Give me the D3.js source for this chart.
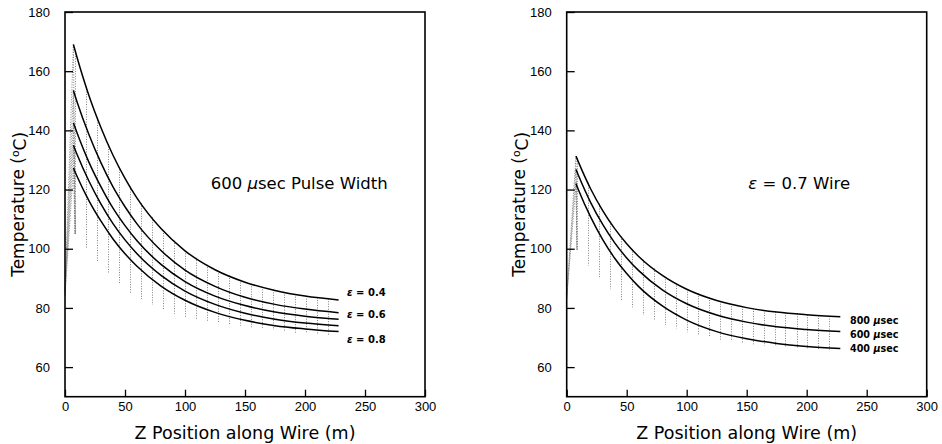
<!DOCTYPE html>
<html>
<head>
<meta charset="utf-8">
<script src="https://cdn.jsdelivr.net/npm/d3@7"></script>
<style>
body { margin: 0; background: #fff; }
svg text { font-family: "Liberation Sans", Arial, sans-serif; fill: #000; }
.title { font-family: "DejaVu Sans", sans-serif !important; }
</style>
</head>
<body>
<div id="chart"></div>
<script>
// envelope sample positions along the wire (m)
const zLeft  = [7, 10, 20, 30, 40, 50, 60, 80, 100, 125, 150, 175, 200, 228];
const zRight = [7.75, 10, 20, 30, 40, 50, 60, 80, 100, 125, 150, 175, 200, 228];

// left panel: 600 usec pulse, emissivity 0.4 .. 0.8 (deg C)
const eps04 = [169, 164.7, 151.7, 140.9, 131.6, 123.8, 117.1, 106.8, 99.3, 92.9, 88.7, 85.9, 84.0, 82.7];
const eps05 = [153.5, 149.7, 138.5, 129, 120.9, 114.2, 108.4, 99.4, 92.8, 87.3, 83.6, 81.2, 79.6, 78.4];
const eps06 = [142.5, 139.2, 129.2, 120.9, 113.7, 107.8, 102.7, 94.7, 88.9, 84.0, 80.8, 78.6, 77.2, 76.2];
const eps07 = [135, 131.9, 122.8, 115.1, 108.5, 103.0, 98.3, 91.0, 85.7, 81.2, 78.2, 76.2, 74.9, 74.0];
const eps08 = [127.3, 124.5, 116.2, 109.3, 103.3, 98.3, 94.1, 87.4, 82.6, 78.5, 75.8, 74.0, 72.9, 72.0];
const startLeft = [86, 85.5, 85, 84.5, 84];

// right panel: eps = 0.7 wire, pulse widths
const us800 = [131.3, 129.1, 120.2, 112.9, 106.8, 101.7, 97.4, 90.9, 86.3, 82.5, 80.1, 78.6, 77.7, 77.0];
const us600 = [126.8, 124.6, 115.6, 108.2, 102.0, 96.9, 92.6, 86.0, 81.4, 77.6, 75.2, 73.6, 72.7, 72.0];
const us400 = [122.0, 119.7, 110.7, 103.1, 96.8, 91.6, 87.2, 80.6, 75.9, 72.0, 69.6, 68.0, 67.0, 66.3];
const startRight = [84, 83.5, 83];

// cooling dips between heated segments
const spikeZ = [8.5, 17.6, 26.8, 35.9, 45.1, 54.2, 63.4, 72.5, 81.7, 90.8, 100.0, 109.1,
                118.3, 127.4, 136.6, 145.7, 154.9, 164.0, 173.2, 182.3, 191.5, 200.6, 209.8, 218.9];
const floorLeft = [105, 100, 95.5, 91.5, 88, 85, 83, 81, 79.5, 78, 77, 76,
                   75.5, 75, 74.5, 74, 73.5, 73, 72.5, 72, 71.5, 71.3, 71, 70.8];
const floorRight = [99.6, 94.3, 90, 86.3, 82.7, 80.2, 77.6, 75.9, 74.2, 73.1, 71.8, 70.8,
                    70, 69.3, 68.7, 68.2, 67.7, 67.3, 67, 66.7, 66.4, 66.1, 65.9, 65.7];

const xTicks = [0, 50, 100, 150, 200, 250, 300];
const xMinor = [25, 75, 125, 175, 225, 275];
const yTicks = [60, 80, 100, 120, 140, 160, 180];
const yMinor = [55, 65, 70, 75, 85, 90, 95, 105, 110, 115, 125, 130, 135, 145, 150, 155, 165, 170, 175];

const leftLabels = ["\u03b5 = 0.4", "\u03b5 = 0.6", "\u03b5 = 0.8"];
const rightLabels = ["800", "600", "400"];

function init() {
    var width = 942, height = 444;

    var svg = d3.select("div#chart")
        .append("svg")
        .attr("width", width)
        .attr("height", height);

    drawPanel(svg, 65, zLeft, [eps04, eps05, eps06, eps07, eps08], startLeft, floorLeft);
    drawPanel(svg, 566.7, zRight, [us800, us600, us400], startRight, floorRight);

    // left annotations
    var t1 = svg.append("text").attr("class", "title")
        .attr("x", 210.7).attr("y", 189)
        .style("font-size", "16.5px");
    t1.append("tspan").text("600 ");
    t1.append("tspan").style("font-style", "italic").text("\u03bc");
    t1.append("tspan").text("sec Pulse Width");

    var lb = [296, 317.5, 343];
    leftLabels.forEach(function(s, i) {
        var t = svg.append("text").attr("class", "title")
            .attr("x", 347).attr("y", lb[i])
            .style("font-size", "10px").style("font-weight", "bold");
        t.append("tspan").style("font-style", "italic").text("\u03b5");
        t.append("tspan").text(s.slice(1));
    });

    // right annotations
    var t2 = svg.append("text").attr("class", "title")
        .attr("x", 748.3).attr("y", 189)
        .style("font-size", "16.5px");
    t2.append("tspan").style("font-style", "italic").text("\u03b5");
    t2.append("tspan").text(" = 0.7 Wire");

    var rb = [324, 337.5, 352];
    rightLabels.forEach(function(s, i) {
        var t = svg.append("text").attr("class", "title")
            .attr("x", 850).attr("y", rb[i])
            .style("font-size", "9.6px").style("font-weight", "bold");
        t.append("tspan").text(s + " ");
        t.append("tspan").style("font-style", "italic").text("\u03bc");
        t.append("tspan").text("sec");
    });
}

function drawPanel(svg, x0, zs, curves, starts, floors) {
    var pw = 360, top = 12, bottom = 396.7;

    const x = d3.scaleLinear().domain([0, 300]).range([x0, x0 + pw]);
    const y = d3.scaleLinear().domain([50, 180]).range([bottom, top]);
    // snap dotted verticals to pixel centres so the dots stay crisp
    function xs(d) { return Math.round(x(d)) + 0.5; }

    var g = svg.append("g");

    // gray dotted rise from the wire end up to each peak
    curves.forEach(function(c, i) {
        g.append("line")
            .attr("x1", x(0)).attr("y1", y(starts[i]))
            .attr("x2", x(zs[0])).attr("y2", y(c[0]))
            .attr("stroke", "#808080").attr("stroke-width", 1)
            .attr("stroke-dasharray", "1,1.5");
        g.append("line")
            .attr("x1", x(zs[0])).attr("y1", y(c[0]))
            .attr("x2", x(spikeZ[0])).attr("y2", y(floors[0]))
            .attr("stroke", "#808080").attr("stroke-width", 1)
            .attr("stroke-dasharray", "1,1.5");
    });

    // dotted cooling dips, from the top curve down to the floor
    var topCurve = d3.scaleLinear().domain(zs).range(curves[0]);
    g.selectAll("line.dip")
        .data(spikeZ)
        .enter().append("line")
        .attr("class", "dip")
        .attr("x1", xs)
        .attr("x2", xs)
        .attr("y1", function(d) { return y(topCurve(d)); })
        .attr("y2", function(d, i) { return y(floors[i]); })
        .attr("stroke", "#808080").attr("stroke-width", 1)
        .attr("stroke-dasharray", "1,1.5");

    var line = d3.line()
        .x(function(d) { return x(d[0]); })
        .y(function(d) { return y(d[1]); })
        .curve(d3.curveMonotoneX);

    curves.forEach(function(c) {
        g.append("path")
            .datum(zs.map(function(z, i) { return [z, c[i]]; }))
            .attr("d", line)
            .attr("fill", "none")
            .attr("stroke", "#000")
            .attr("stroke-width", 1.5);
    });

    // axes with inward ticks
    var ax = g.append("g").attr("transform", "translate(0," + bottom + ")");
    ax.call(d3.axisBottom(x).tickValues(xMinor).tickSize(-4).tickFormat(""));
    ax.call(d3.axisBottom(x).tickValues(xTicks).tickSize(-7).tickPadding(5).tickSizeOuter(0));
    var ay = g.append("g").attr("transform", "translate(" + x0 + ",0)");
    ay.call(d3.axisLeft(y).tickValues(yMinor).tickSize(-4).tickFormat(""));
    ay.call(d3.axisLeft(y).tickValues(yTicks).tickSize(-8).tickPadding(15).tickSizeOuter(0));
    g.selectAll(".domain").remove();
    g.selectAll(".tick line").attr("stroke-width", 1.3);
    g.selectAll(".tick text").style("font-size", "13px").style("font-family", "Liberation Sans, Arial, sans-serif");

    g.append("rect")
        .attr("x", x0).attr("y", top)
        .attr("width", pw).attr("height", bottom - top)
        .attr("fill", "none").attr("stroke", "#000").attr("stroke-width", 1.6);

    // axis titles
    g.append("text").attr("class", "title")
        .attr("x", x0 + pw / 2).attr("y", 439)
        .attr("text-anchor", "middle")
        .style("font-size", "17.5px")
        .text("Z Position along Wire (m)");

    var yt = g.append("text").attr("class", "title")
        .attr("transform", "translate(" + (x0 - 41.5) + "," + ((top + bottom) / 2) + ") rotate(-90)")
        .attr("text-anchor", "middle")
        .style("font-size", "17px");
    yt.append("tspan").text("Temperature (");
    yt.append("tspan").attr("dy", "-0.45em").style("font-size", "11px").text("o");
    yt.append("tspan").attr("dy", "0.45em").text("C)");

    return g;
}

init();
</script>
</body>
</html>
